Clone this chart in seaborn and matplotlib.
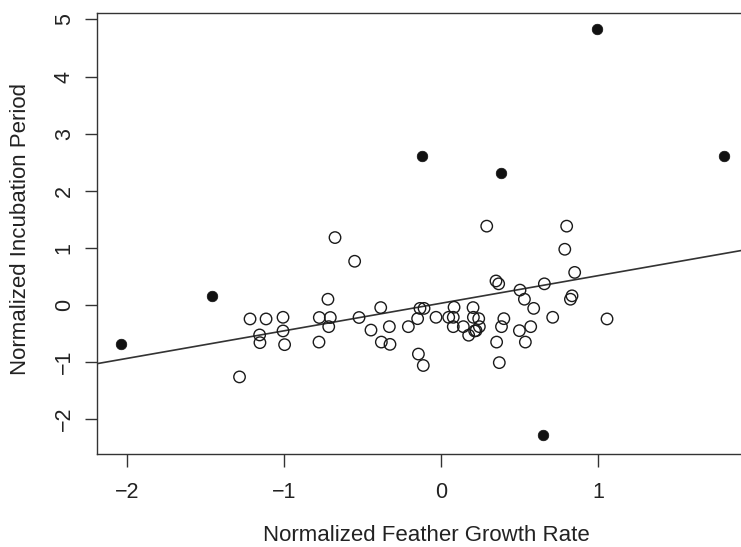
import matplotlib
matplotlib.use("Agg")
import matplotlib.pyplot as plt
import seaborn as sns
import pandas as pd

open_x = [-1.216, -1.114, -1.006, -1.155, -1.153, -1.006, -0.996, -1.283,
          -0.675, -0.55, -0.72, -0.775, -0.705, -0.715, -0.777, -0.522, -0.384,
          -0.446, -0.329, -0.38, -0.325, -0.208, -0.149, -0.134, -0.108, -0.032,
          -0.144, -0.113, 0.049, 0.078, 0.083, 0.078, 0.142, 0.204, 0.206, 0.176,
          0.223, 0.214, 0.24, 0.244,
          0.291, 0.80, 0.788, 0.851, 0.35, 0.367, 0.503, 0.658, 0.531, 0.834,
          0.824, 0.40, 0.385, 0.59, 0.711, 0.571, 0.499, 0.354, 0.537, 0.371, 1.057]
open_y = [-0.245, -0.245, -0.216, -0.525, -0.66, -0.455, -0.695, -1.26,
          1.18, 0.765, 0.10, -0.22, -0.22, -0.38, -0.65, -0.22, -0.046,
          -0.44, -0.38, -0.65, -0.69, -0.38, -0.24, -0.06, -0.06, -0.216,
          -0.86, -1.06, -0.216, -0.216, -0.04, -0.38, -0.38, -0.046, -0.216, -0.53,
          -0.45, -0.455, -0.24, -0.38,
          1.38, 1.38, 0.975, 0.57, 0.42, 0.37, 0.26, 0.37, 0.10, 0.16,
          0.10, -0.24, -0.38, -0.06, -0.216, -0.38, -0.45, -0.65, -0.65, -1.01, -0.245]

filled_x = [-2.04, -1.46, -0.12, 0.38, 0.99, 1.80, 0.65]
filled_y = [-0.68, 0.16, 2.61, 2.31, 4.83, 2.61, -2.28]

fit_intercept = 0.03
fit_slope = 0.483

x_ticks = [-2, -1, 0, 1]
y_ticks = [-2, -1, 0, 1, 2, 3, 4, 5]

sns.set_style("white")
plt.rcParams["font.family"] = ["Liberation Sans", "DejaVu Sans"]

fig = plt.figure(figsize=(7.41, 5.47), dpi=100)
ax = fig.add_axes([0.131, 0.17, 0.869, 0.806])

df_open = pd.DataFrame({"x": open_x, "y": open_y})
df_filled = pd.DataFrame({"x": filled_x, "y": filled_y})

ax.axline((0, fit_intercept), slope=fit_slope, color="#333333", lw=1.2, zorder=1)
sns.scatterplot(data=df_open, x="x", y="y", ax=ax, marker="o", s=68,
                facecolor="none", edgecolor="#1a1a1a", linewidth=1.0, zorder=3)
sns.scatterplot(data=df_filled, x="x", y="y", ax=ax, marker="o", s=58,
                color="#111111", edgecolor="#111111", linewidth=0.5, zorder=4)

ax.set_xlim(-2.19, 1.91)
ax.set_ylim(-2.61, 5.11)
ax.set_xticks(x_ticks)
ax.set_yticks(y_ticks)
ax.set_xticklabels(["\u22122", "\u22121", "0", "1"])
ax.set_yticklabels(["\u22122", "\u22121", "0", "1", "2", "3", "4", "5"],
                   rotation=90, va="center")
ax.tick_params(axis="both", direction="out", length=9, width=1.0,
               color="#333333", labelsize=15.5, labelcolor="#222222",
               bottom=True, left=True)
ax.tick_params(axis="x", pad=11)
ax.tick_params(axis="y", pad=7)
for side in ["left", "bottom", "top"]:
    ax.spines[side].set_color("#333333")
    ax.spines[side].set_linewidth(1.0)
ax.spines["right"].set_visible(False)

ax.set_xlabel("Normalized Feather Growth Rate", fontsize=16, color="#222222")
ax.set_ylabel("Normalized Incubation Period", fontsize=16, color="#222222")
ax.xaxis.set_label_coords(0.512, -0.16)
ax.yaxis.set_label_coords(-0.103, 0.51)

fig.savefig("out.png", dpi=100)
